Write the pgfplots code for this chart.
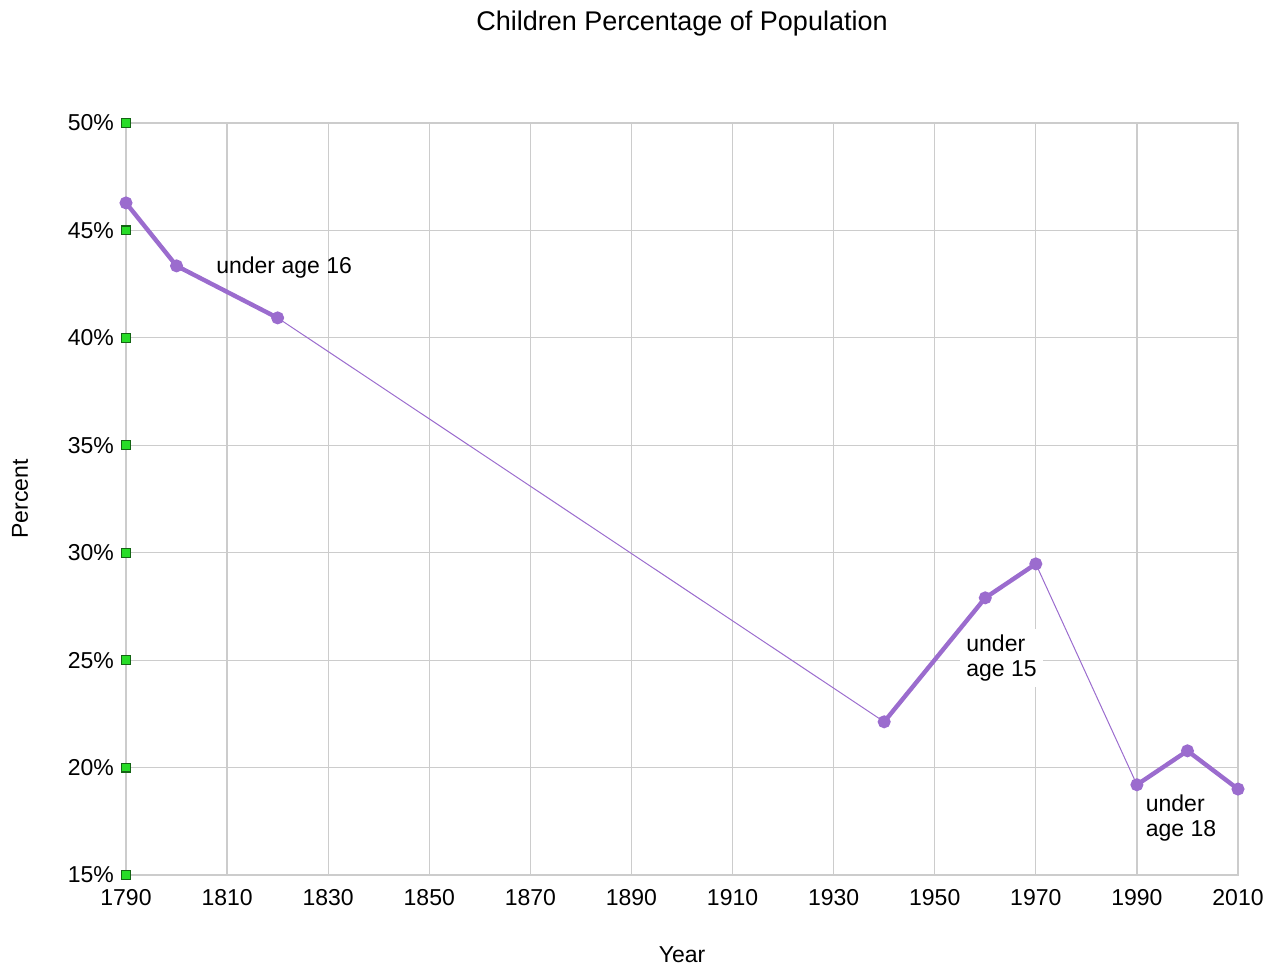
\documentclass[border=0pt]{standalone}
\usepackage{pgfplots}
\pgfplotsset{compat=1.18}
\usepackage{fontspec}
\setmainfont{Liberation Sans}

\definecolor{linepurple}{RGB}{155,108,206}
\definecolor{gridgray}{RGB}{204,204,204}
\definecolor{markgreen}{RGB}{40,220,40}
\definecolor{markedge}{RGB}{20,100,20}

\begin{document}
\fontsize{11.5}{13.5}\selectfont
\begin{tikzpicture}
\path[use as bounding box] (-63pt,-45pt) rectangle (574.5pt,437.5pt);
\begin{axis}[
  scale only axis, width=556pt, height=376pt,
  xmin=1790, xmax=2010, ymin=15, ymax=50,
  xtick={1790,1810,...,2010}, ytick={15,20,...,50},
  x tick label style={/pgf/number format/1000 sep={}},
  yticklabel={\pgfmathprintnumber{\tick}\%},
  /pgf/number format/assume math mode=true,
  grid=major, major grid style={gridgray, line width=0.6pt},
  axis line style={gridgray, line width=0.6pt},
  major tick length=0pt,
  tick label style={font=\fontsize{11.5}{13.5}\selectfont},
  xticklabel shift=3pt, yticklabel shift=2pt,
  clip=false,
  title={Children Percentage of Population},
  title style={font=\fontsize{13.5}{15}\selectfont, at={(0.5,1)}, anchor=center, yshift=43.5pt},
  xlabel={Year}, ylabel={Percent},
  xlabel style={font=\fontsize{11.5}{13.5}\selectfont, at={(0.5,0)}, anchor=center, yshift=-40pt},
  ylabel style={font=\fontsize{11.5}{13.5}\selectfont, at={(0,0.5)}, anchor=center, yshift=53pt},
]
% label box first, so the line is drawn over it
\node[anchor=west, align=left, fill=white, inner sep=3pt, font=\fontsize{11.5}{12.5}\selectfont] at (axis cs:1955,25.1) {under\\age 15};
% thin connectors between definitions
\addplot[linepurple, line width=0.5pt, no marks] coordinates {(1820,40.93) (1940,22.13)};
\addplot[linepurple, line width=0.5pt, no marks] coordinates {(1970,29.48) (1990,19.20)};
% under age 16
\addplot[linepurple, line width=2.2pt, mark=*, mark size=2.1pt] coordinates {
  (1790,46.28) (1800,43.35) (1820,40.93)
};
% under age 15
\addplot[linepurple, line width=2.2pt, mark=*, mark size=2.1pt] coordinates {
  (1940,22.13) (1960,27.90) (1970,29.48)
};
% under age 18
\addplot[linepurple, line width=2.2pt, mark=*, mark size=2.1pt] coordinates {
  (1990,19.20) (2000,20.78) (2010,19.00)
};
% green tick markers on the y axis
\addplot[only marks, mark=square*, mark size=2.2pt, mark options={fill=markgreen, draw=markedge, line width=0.6pt}] coordinates {
  (1790,15) (1790,20) (1790,25) (1790,30) (1790,35) (1790,40) (1790,45) (1790,50)
};
\node[anchor=west, inner sep=1pt] at (axis cs:1807.4,43.25) {under age 16};
\node[anchor=west, align=left, inner sep=1pt, font=\fontsize{11.5}{12.5}\selectfont] at (axis cs:1991.3,17.66) {under\\age 18};
\end{axis}
\end{tikzpicture}
\end{document}
